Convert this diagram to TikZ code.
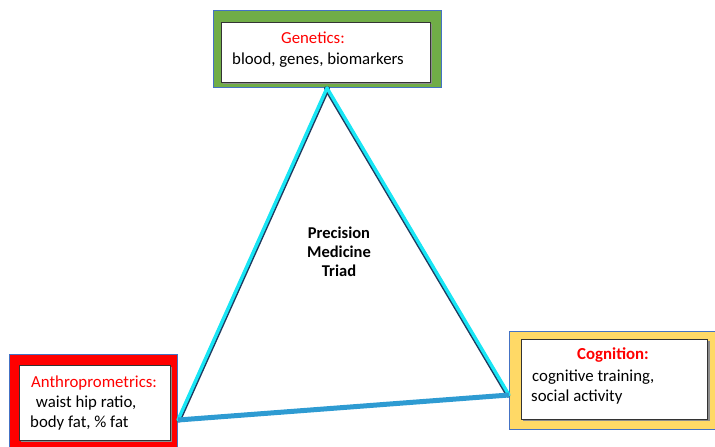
\documentclass[tikz,border=0pt]{standalone}
\usepackage{fontspec}
\setmainfont{Carlito}
\definecolor{gfill}{HTML}{70AD47}
\definecolor{rfill}{HTML}{FF0000}
\definecolor{yfill}{HTML}{FFD966}
\definecolor{frame}{HTML}{4472C4}
\definecolor{cyanline}{HTML}{19E6F5}
\definecolor{darkline}{HTML}{1F3A5F}
\definecolor{baseline}{HTML}{2E9BD2}
\definecolor{redtxt}{HTML}{FF0000}
\begin{document}
\begin{tikzpicture}[x=1pt,y=-1pt,
  outerbox/.style={draw=frame,line width=1pt},
  innerbox/.style={fill=white,draw=black!80,line width=0.8pt},
  shadow/.style={fill=black!45},
  lbl/.style={font=\fontsize{16.8}{20}\selectfont,inner sep=0pt},
  head/.style={lbl,text=redtxt},
  legshadow/.style={draw=darkline,line width=4.2pt,line cap=round},
  leg/.style={draw=cyanline,line width=3.4pt,line cap=round}]
\useasboundingbox (0,0) rectangle (715,447);
\begin{scope}
\clip (0,0) rectangle (715,447);
% Genetics box
\path[outerbox,fill=gfill] (213,10) rectangle (441,87);
\path[shadow] (223,24) rectangle (432,84);
\path[innerbox] (221,22) rectangle (430,82);
\node[head,anchor=center] (gh) at (313,38) {Genetics:};
\node[lbl,anchor=west] (gt) at (232,60) {blood, genes, biomarkers};
% Anthropometrics box
\path[outerbox,fill=rfill] (9,354) rectangle (177,455);
\path[shadow] (21,367) rectangle (172,442);
\path[innerbox] (19,365) rectangle (170,440);
\node[head,anchor=west] (ah) at (31,383) {Anthroprometrics:};
\node[lbl,anchor=west] (at1) at (32,403) {\ waist hip ratio,};
\node[lbl,anchor=west] (at2) at (30,423) {body fat, \% fat};
% Cognition box
\path[outerbox,fill=yfill] (509,331) rectangle (722,429);
\path[shadow] (523,341) rectangle (710,421);
\path[innerbox] (521,339) rectangle (707,419);
\node[head,anchor=center,font=\fontsize{16.8}{20}\selectfont\bfseries] (ch) at (613,355) {Cognition:};
\node[lbl,anchor=west] (ct1) at (532,377) {cognitive training,};
\node[lbl,anchor=west] (ct2) at (531,397) {social activity};
% triangle
\coordinate (apex) at (327,88);
\coordinate (lv) at (178,420);
\coordinate (rv) at (509,395);
\draw[legshadow] ([shift={(0.9,0.5)}]apex) -- ([shift={(0.9,0.5)}]lv);
\draw[legshadow] ([shift={(-0.9,0.5)}]apex) -- ([shift={(-0.9,0.5)}]rv);
\draw[leg] (apex) -- (lv);
\draw[leg] (apex) -- (rv);
\draw[draw=baseline,line width=5pt] (lv) -- (rv);
\node[font=\fontsize{16.5}{19}\selectfont\bfseries,align=center,inner sep=0pt] (title) at (339,252) {Precision\\Medicine\\Triad};
\end{scope}
\end{tikzpicture}
\end{document}
